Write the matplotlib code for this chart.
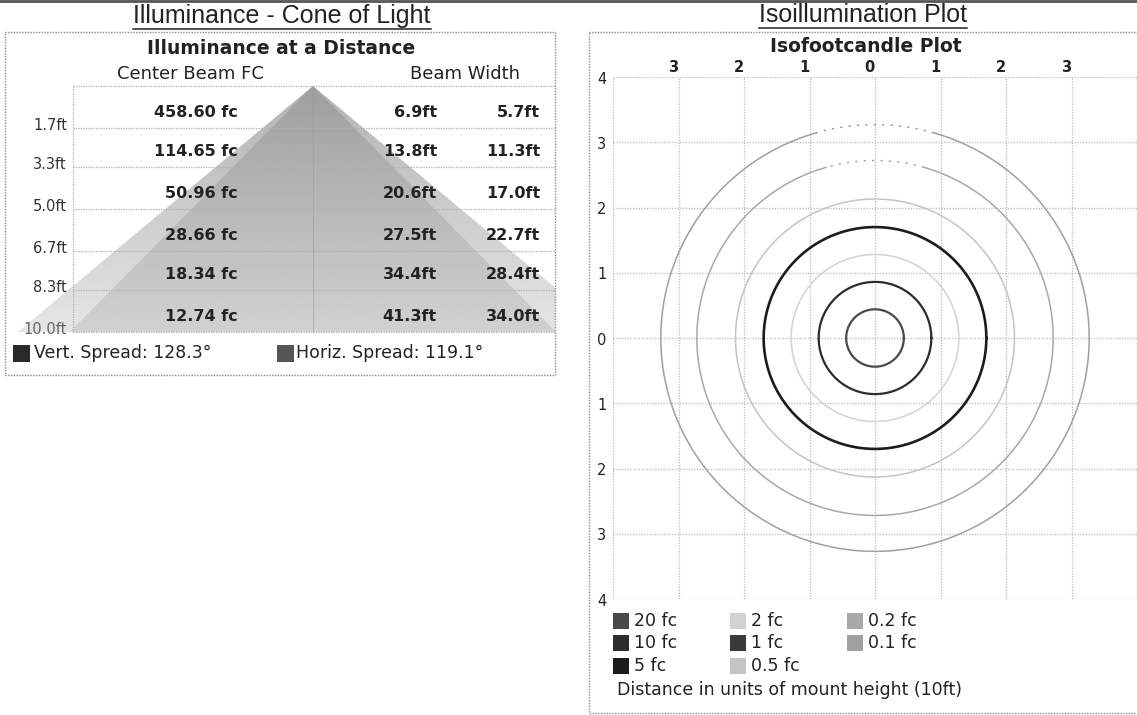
import numpy as np
import matplotlib
matplotlib.use("Agg")
import matplotlib.pyplot as plt
from matplotlib.patches import Rectangle, Polygon
from matplotlib.lines import Line2D
from matplotlib.transforms import IdentityTransform

plt.rcParams['font.family'] = ['DejaVu Sans']

W, H = 1137, 715

# cone of light table
distances = [1.7, 3.3, 5.0, 6.7, 8.3, 10.0]
center_fc = ["458.60 fc", "114.65 fc", "50.96 fc", "28.66 fc", "18.34 fc", "12.74 fc"]
vert_width = [6.9, 13.8, 20.6, 27.5, 34.4, 41.3]
horiz_width = [5.7, 11.3, 17.0, 22.7, 28.4, 34.0]
vert_spread = 128.3
horiz_spread = 119.1

# isofootcandle contours (radius in mount heights, None = not drawn)
iso_labels = ["20 fc", "10 fc", "5 fc", "2 fc", "1 fc", "0.5 fc", "0.2 fc", "0.1 fc"]
iso_radii = [0.44, 0.86, 1.70, 1.28, None, 2.13, 2.72, 3.27]
iso_colors = ["#4a4a4a", "#2c2c2c", "#1c1c1c", "#d2d2d2", "#3a3a3a", "#c4c4c4", "#a8a8a8", "#a0a0a0"]
grid_ticks = [-4, -3, -2, -1, 0, 1, 2, 3, 4]

fig = plt.figure(figsize=(W / 100, H / 100), dpi=100)
fig.patch.set_facecolor("white")


def px_axes(x0, y0, x1, y1, **kw):
    return fig.add_axes([x0 / W, 1 - y1 / H, (x1 - x0) / W, (y1 - y0) / H], **kw)


# overlay in pixel units for titles, boxes and legends
ov = px_axes(0, 0, W, H, zorder=10)
ov.set_xlim(0, W)
ov.set_ylim(H, 0)
ov.axis("off")
ov.patch.set_alpha(0)

ov.plot([0, W], [1, 1], color="#555555", lw=2)

# ---------------- left panel: cone of light ----------------
px_per_ft_x = 14.3
apex_x, table_top, table_bot = 313, 86, 332
px_per_ft_y = (table_bot - table_top) / 10.0
panel_l, panel_t, panel_r, panel_b = 5, 32, 555, 375

ax = px_axes(panel_l, panel_t, panel_r, panel_b)
ax.set_xlim((panel_l - apex_x) / px_per_ft_x, (panel_r - apex_x) / px_per_ft_x)
ax.set_ylim((panel_b - table_top) / px_per_ft_y, (panel_t - table_top) / px_per_ft_y)
ax.axis("off")

dmax = distances[-1]
tbl_left = (73 - apex_x) / px_per_ft_x
tbl_right = (panel_r - apex_x) / px_per_ft_x

# shaded beams, lighter outer (vertical spread) and darker inner (horizontal)
grad = np.linspace(0, 1, 256).reshape(-1, 1)
for half, top_c, bot_c in [(vert_width[-1] / 2, 0.70, 0.90), (horiz_width[-1] / 2, 0.62, 0.82)]:
    tri = Polygon([[0, 0], [-half, dmax], [half, dmax]], closed=True,
                  facecolor="none", edgecolor="none")
    ax.add_patch(tri)
    img = ax.imshow(top_c + (bot_c - top_c) * grad, cmap="gray", vmin=0, vmax=1,
                    extent=[-half, half, dmax, 0], aspect="auto", zorder=1)
    img.set_clip_path(tri)

# table lines
ax.plot([0, 0], [0, dmax], color="#9a9a9a", lw=0.8, alpha=0.5, zorder=2)
ax.hlines([0] + distances, tbl_left, tbl_right, color="#b0b0b0", lw=0.9,
          linestyles=(0, (1, 1)), zorder=2)
ax.vlines(tbl_left, 0, dmax, color="#b0b0b0", lw=0.9, linestyles=(0, (1, 1)), zorder=2)

for d, fc, vw, hw in zip(distances, center_fc, vert_width, horiz_width):
    y = d - 0.62
    ax.text((238 - apex_x) / px_per_ft_x, y, fc, ha="right", va="center",
            fontsize=11.5, fontweight="bold", color="#222222", zorder=3)
    ax.text((437 - apex_x) / px_per_ft_x, y, f"{vw:.1f}ft", ha="right", va="center",
            fontsize=11.5, fontweight="bold", color="#222222", zorder=3)
    ax.text((540 - apex_x) / px_per_ft_x, y, f"{hw:.1f}ft", ha="right", va="center",
            fontsize=11.5, fontweight="bold", color="#222222", zorder=3)
    ax.text((67 - apex_x) / px_per_ft_x, d - 0.1, f"{d:.1f}ft", ha="right", va="center",
            fontsize=10.5, color="#333333" if d < dmax else "#666666", zorder=3)

ov.add_patch(Rectangle((panel_l, panel_t), panel_r - panel_l, panel_b - panel_t,
                       fill=False, edgecolor="#8a8a8a", lw=1, linestyle=(0, (1, 1))))

t1 = ov.text(282, 16, "Illuminance - Cone of Light", ha="center", va="center",
             fontsize=18, family="Liberation Sans", color="#222222")
ov.text(281, 48, "Illuminance at a Distance", ha="center", va="center",
        fontsize=13.5, fontweight="bold", color="#222222")
ov.text(190, 74, "Center Beam FC", ha="center", va="center", fontsize=13, color="#222222")
ov.text(465, 74, "Beam Width", ha="center", va="center", fontsize=13, color="#222222")

ov.add_patch(Rectangle((13, 345), 17, 17, facecolor="#2a2a2a", edgecolor="none"))
ov.text(34, 353, f"Vert. Spread: {vert_spread:.1f}°", ha="left", va="center",
        fontsize=12.5, color="#222222")
ov.add_patch(Rectangle((277, 345), 17, 17, facecolor="#555555", edgecolor="none"))
ov.text(296, 353, f"Horiz. Spread: {horiz_spread:.1f}°", ha="left", va="center",
        fontsize=12.5, color="#222222")

# ---------------- right panel: isofootcandle plot ----------------
iso = px_axes(613, 77, 1137, 599)
iso.set_xlim(-4, 4)
iso.set_ylim(-4, 4)
iso.axis("off")
iso.vlines(grid_ticks, -4, 4, color="#c2c2c2", lw=1, linestyles=(0, (1, 1)), zorder=1)
iso.hlines(grid_ticks, -4, 4, color="#c2c2c2", lw=1, linestyles=(0, (1, 1)), zorder=1)

# the faint outer contours break up into dots across the top
top_arc = (np.radians(74), np.radians(106))
for r, c in zip(iso_radii, iso_colors):
    if r is None:
        continue
    shade = np.mean(matplotlib.colors.to_rgb(c))
    lw = 1.9 if shade < 0.15 else (1.6 if shade < 0.5 else 1.1)
    if r > 2.5:
        th = np.linspace(top_arc[1], top_arc[0] + 2 * np.pi, 400)
        iso.plot(r * np.cos(th), r * np.sin(th), color=c, lw=lw, zorder=2)
        th = np.linspace(*top_arc, 60)
        iso.plot(r * np.cos(th), r * np.sin(th), color=c, lw=lw,
                 linestyle=(0, (1.5, 4)), zorder=2)
    else:
        th = np.linspace(0, 2 * np.pi, 400)
        iso.plot(r * np.cos(th), r * np.sin(th), color=c, lw=lw, zorder=2)

for t in grid_ticks[1:-1]:
    iso.annotate(str(abs(t)), (t, 4), xytext=(-4, 6.5), textcoords="offset points",
                 ha="center", va="center", fontsize=10.5, fontweight="bold", color="#222222")
for t in grid_ticks:
    iso.annotate(str(abs(t)), (-4, t), xytext=(-8, -1.5), textcoords="offset points",
                 ha="center", va="center", fontsize=10.5, color="#222222")

ov.add_patch(Rectangle((589, 32), W + 10 - 589, 713 - 32,
                       fill=False, edgecolor="#8a8a8a", lw=1, linestyle=(0, (1, 1))))
t2 = ov.text(863, 15, "Isoillumination Plot", ha="center", va="center",
             fontsize=18, family="Liberation Sans", color="#222222")
ov.text(866, 46, "Isofootcandle Plot", ha="center", va="center",
        fontsize=13.5, fontweight="bold", color="#222222")

leg_x = [613, 730, 847]
leg_y = [621, 643, 666]
for i, (lab, c) in enumerate(zip(iso_labels, iso_colors)):
    col, row = divmod(i, 3)
    x, y = leg_x[col], leg_y[row]
    ov.add_patch(Rectangle((x, y - 8), 16, 16, facecolor=c, edgecolor="none"))
    ov.text(x + 21, y, lab, ha="left", va="center", fontsize=12.5, color="#222222")
ov.text(617, 690, "Distance in units of mount height (10ft)", ha="left", va="center",
        fontsize=12.5, color="#222222")

# underline the two panel titles
renderer = fig.canvas.get_renderer()
for t in (t1, t2):
    bb = t.get_window_extent(renderer)
    fig.add_artist(Line2D([bb.x0, bb.x1], [bb.y0 - 1, bb.y0 - 1], transform=IdentityTransform(),
                          color="#222222", lw=1.1))

fig.savefig("out.png", dpi=100)
